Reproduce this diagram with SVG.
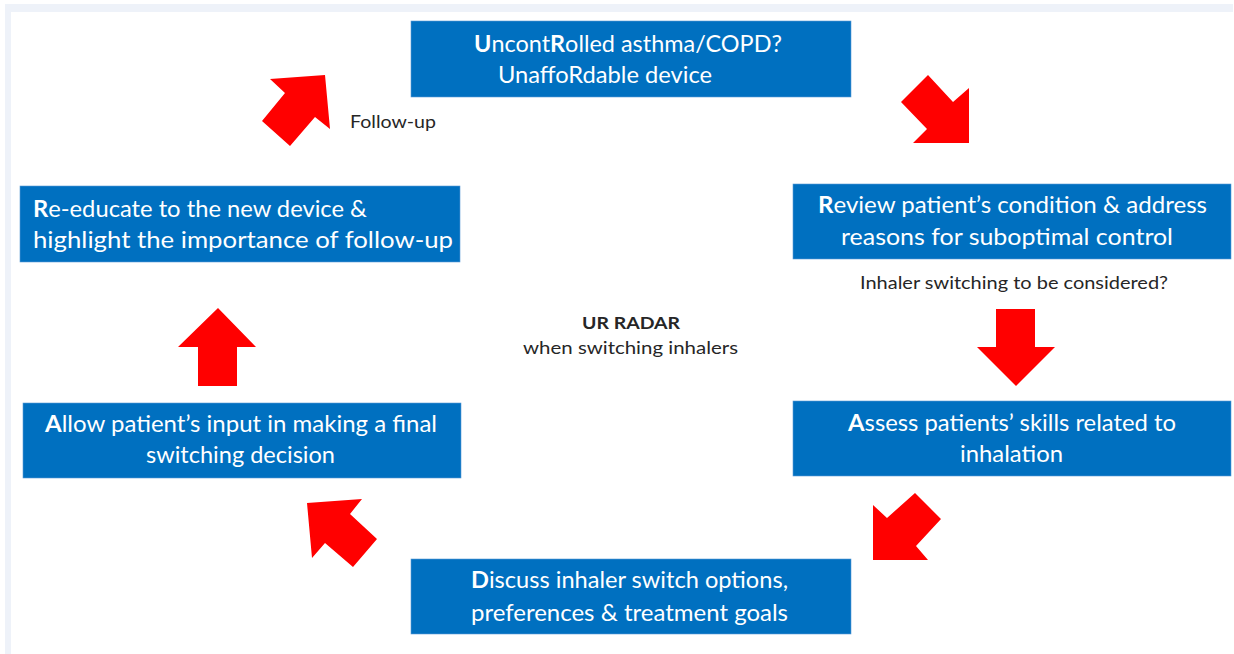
<svg xmlns="http://www.w3.org/2000/svg" width="1234" height="654" viewBox="0 0 1234 654">
<style>
.box{fill:#0070c0;stroke:#5b9bd5;stroke-width:0.6}
.bt{font-family:Lato,"Liberation Sans",sans-serif;font-size:22.5px;fill:#ffffff}
.b{font-weight:bold}
.lbl{font-family:Lato,"Liberation Sans",sans-serif;font-size:17px;fill:#262626}
.arr{fill:#ff0000}
</style>
<rect x="0" y="0" width="1234" height="654" fill="#ffffff"/>
<rect x="5" y="4" width="1228" height="8" fill="#eef2f9"/>
<rect x="5" y="4" width="6" height="650" fill="#eef2f9"/>
<g id="connectors">
<polygon class="arr" points="270,79 325,75 330,129 315,117 290,146 262,121 285,93"/>
<polygon class="arr" points="928,75 953,102 969,88 969,143 913,143 927,129 901,102"/>
<polygon class="arr" points="996,309 1035,309 1035,347 1055,347 1016,386 977,347 996,347"/>
<polygon class="arr" points="873,505 887,518 915,493 941,519 916,546 928,560 873,560"/>
<polygon class="arr" points="307,503 362,499 350,514 377,539 353,567 325,543 312,558"/>
<polygon class="arr" points="218,308 256,347 237,347 237,386 198,386 198,347 178,347"/>
</g>
<g id="node-uncontrolled">
<rect class="box" x="411" y="21" width="440" height="76"/>
<text class="bt" x="474" y="52" textLength="308" lengthAdjust="spacingAndGlyphs"><tspan class="b">U</tspan>ncont<tspan class="b">R</tspan>olled asthma/COPD?</text>
<text class="bt" x="498" y="83" textLength="214" lengthAdjust="spacingAndGlyphs">UnaffoRdable device</text>
</g>
<g id="node-review">
<rect class="box" x="793" y="184" width="438" height="75"/>
<text class="bt" x="818" y="213" textLength="389" lengthAdjust="spacingAndGlyphs"><tspan class="b">R</tspan>eview patient’s condition &amp; address</text>
<text class="bt" x="841" y="245" textLength="332" lengthAdjust="spacingAndGlyphs">reasons for suboptimal control</text>
</g>
<text id="label-inhaler" class="lbl" x="860" y="289" textLength="308" lengthAdjust="spacingAndGlyphs">Inhaler switching to be considered?</text>
<g id="node-assess">
<rect class="box" x="793" y="401" width="438" height="75"/>
<text class="bt" x="848" y="431" textLength="328" lengthAdjust="spacingAndGlyphs"><tspan class="b">A</tspan>ssess patients’ skills related to</text>
<text class="bt" x="960" y="462" textLength="103" lengthAdjust="spacingAndGlyphs">inhalation</text>
</g>
<g id="node-discuss">
<rect class="box" x="411" y="559" width="440" height="75"/>
<text class="bt" x="471" y="588" textLength="317" lengthAdjust="spacingAndGlyphs"><tspan class="b">D</tspan>iscuss inhaler switch options,</text>
<text class="bt" x="471" y="621" textLength="317" lengthAdjust="spacingAndGlyphs">preferences &amp; treatment goals</text>
</g>
<g id="node-allow">
<rect class="box" x="23" y="403" width="438" height="75"/>
<text class="bt" x="45" y="432" textLength="392" lengthAdjust="spacingAndGlyphs"><tspan class="b">A</tspan>llow patient’s input in making a final</text>
<text class="bt" x="146" y="463" textLength="189" lengthAdjust="spacingAndGlyphs">switching decision</text>
</g>
<g id="node-reeducate">
<rect class="box" x="20" y="186" width="440" height="76"/>
<text class="bt" x="33" y="217" textLength="334" lengthAdjust="spacingAndGlyphs"><tspan class="b">R</tspan>e-educate to the new device &amp;</text>
<text class="bt" x="33" y="248" textLength="420" lengthAdjust="spacingAndGlyphs">highlight the importance of follow-up</text>
</g>
<text id="label-followup" class="lbl" x="350" y="128" textLength="86" lengthAdjust="spacingAndGlyphs">Follow-up</text>
<g id="center-title">
<text class="lbl b" x="582" y="329" textLength="98" lengthAdjust="spacingAndGlyphs">UR RADAR</text>
<text class="lbl" x="523" y="354" textLength="215" lengthAdjust="spacingAndGlyphs">when switching inhalers</text>
</g>
</svg>
